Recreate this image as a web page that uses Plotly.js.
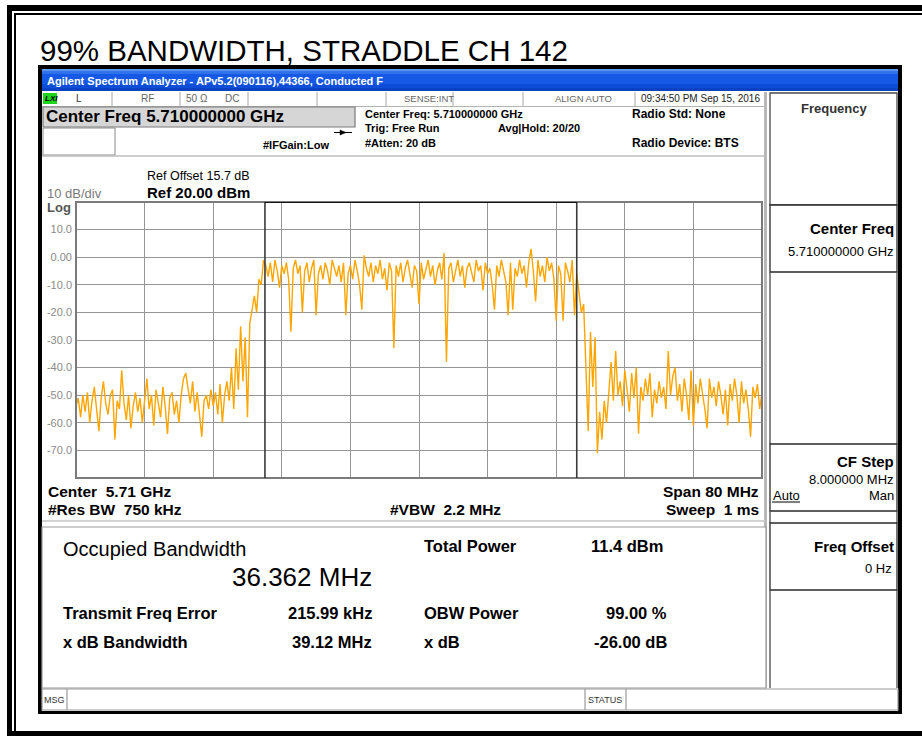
<!DOCTYPE html>
<html><head><meta charset="utf-8">
<script src="https://cdn.plot.ly/plotly-3.0.1.min.js"></script>
<style>html,body{margin:0;padding:0;background:#fff;}#chart{width:922px;height:736px;}</style>
</head><body><div id="chart"></div>
<script>
// ---------------- data ----------------
const chartTitle = "99% BANDWIDTH, STRADDLE CH 142";
const sweepStartGHz = 5.670;
const sweepStopGHz = 5.750;
const obwLowerGHz = 5.692035;
const obwUpperGHz = 5.728397;
const refLevelDbm = 20;
const bottomLevelDbm = -80;
const xGridGHz = [5.670,5.678,5.686,5.694,5.702,5.710,5.718,5.726,5.734,5.742,5.750];
const yTickValues = [10,0,-10,-20,-30,-40,-50,-60,-70];
const yTickLabels = ["10.0","0.00","-10.0","-20.0","-30.0","-40.0","-50.0","-60.0","-70.0"];
const traceDbm = [
-54,-51,-58,-50,-56,-49,-60,-52,-47,-55,-63,-51,-45,-53,-57,-50,-48,-66,-52,-55,-41,-53,-59,-50,-62,-54,-49,-56,-51,-60,
-52,-44,-55,-50,-61,-48,-53,-58,-47,-54,-64,-51,-49,-57,-52,-60,-50,-44,-42,-47,-53,-45,-56,-49,-58,-65,-52,-50,-55,-48,
-54,-49,-57,-46,-60,-50,-45,-52,-40,-55,-33,-48,-25,-45,-29,-58,-24,-19,-14,-20,-8,-10,-1,
-3,-7,-2,-9,-1,-5,-11,-3,-6,-2,
-8,-27,-4,-1,-6,-3,-20,-5,-2,-9,
-4,-1,-21,-6,-3,-8,-2,-5,-10,-1,
-4,-7,-3,-9,-2,-21,-6,-3,-8,-1,
-5,-10,-19,0.7,-4,-7,-2,-9,-3,-6,
-1,-8,-4,-12,-2,-5,-33,-3,-7,-2,
-9,-4,-1,-6,-11,-3,-5,-17,-2,-8,
-4,-1,-7,-3,-10,-5,-2,-8,1.5,-38,
-4,-2,-9,-5,-1,-7,-3,-11,-4,-2,
-6,-9,-1,-5,-3,-12,-2,-6,-4,-10,
-19,-3,-7,-1,-5,-9,-21,-2,-19,-4,
-7,-1,-6,-3,-11,-2,3,-5,-16,-1,
-7,-3,-9,0,-5,-2,-8,-23,-3,-6,
-23,-2,-5,-9,-1,-21,
-6,-13,-20,-17,-40,-63,-27,-47,-29,-71,-56,-66,-52,-60,
-49,-38,-52,-34,-50,-45,-54,-41,-48,-56,
-42,-51,-40,-64,-47,-52,-44,-50,-42,-58,
-48,-53,-45,-51,-47,-55,-34,-50,-43,-40,
-52,-46,-56,-44,-50,-59,-41,-61,-46,-53,
-44,-49,-55,-62,-44,-51,-47,-54,-45,-50,
-57,-48,-61,-46,-52,-44,-50,-60,-45,-53,
-48,-55,-65,-47,-51,-46,-55,-49
];
// sweep grid (instrument sweep points evenly spaced across the span)
const freqGHz = traceDbm.map((_, i) => sweepStartGHz + i * (sweepStopGHz - sweepStartGHz) / (traceDbm.length - 1));

// ---------------- layout helpers ----------------
const W = 922, H = 736;
const L = 76, R = 762, T = 202, B = 478;
const px = x => (x - L) / (R - L);
const py = y => (B - y) / (B - T);
const FONT = "Liberation Sans, Arial, Helvetica, sans-serif";
const shapes = [], annotations = [];
function rect(x0, y0, x1, y1, fill, line, lw, layer) {
  shapes.push({type:'rect', xref:'paper', yref:'paper', x0:px(x0), x1:px(x1), y0:py(y0), y1:py(y1),
    fillcolor: fill || 'rgba(0,0,0,0)', line:{color: line || 'rgba(0,0,0,0)', width: lw || 0}, layer: layer || 'above'});
}
function seg(x0, y0, x1, y1, color, w) {
  shapes.push({type:'line', xref:'paper', yref:'paper', x0:px(x0), x1:px(x1), y0:py(y0), y1:py(y1),
    line:{color: color, width: w || 1}, layer:'above'});
}
function txt(s, x, y, size, o) {
  o = o || {};
  annotations.push({text: o.bold ? '<b>' + s + '</b>' : s, xref:'paper', yref:'paper', x:px(x), y:py(y),
    xanchor: o.anchor || 'left', yanchor:'middle', showarrow:false, borderpad:0,
    font:{family: o.family || FONT, size: size, color: o.color || '#000'}});
}

// page frame
rect(7, 5, 922, 11, '#000');
rect(7, 5, 12, 736, '#000');
rect(14, 13, 922, 15, '#000');
rect(14, 13, 16, 736, '#000');
rect(7, 731, 922, 736, '#000');

// instrument window frame
rect(38, 65, 902, 69, '#000');
rect(38, 65, 42, 714, '#000');
rect(898, 65, 902, 714, '#000');
rect(38, 711, 902, 714, '#000');

// blue title bar
const bands = [[69,71,'#5a98f4'],[71,74,'#2f72ec'],[74,84,'#1659e6'],[84,88,'#0d4dd8'],[88,91,'#0a43c2']];
bands.forEach(b => rect(42, b[0], 898, b[1], b[2]));
txt('Agilent Spectrum Analyzer - APv5.2(090116),44366, Conducted F', 46, 81, 11, {bold:true, color:'#ffffff'});

// status row
rect(43, 93, 57, 104, '#1ed51e');
txt('<i>LXI</i>', 43.5, 98.5, 8, {bold:true, color:'#000'});
[112,180,248,317,386,453,523,635].forEach(x => seg(x, 92, x, 106, '#a8a8a8', 1));
seg(42, 106.5, 766, 106.5, '#b4b4b4', 1);
txt('L', 75, 99, 10, {color:'#333'});
txt('RF', 140, 99, 10, {color:'#666'});
txt('50 Ω', 185, 99, 10, {color:'#666'});
txt('DC', 224, 99, 10, {color:'#666'});
txt('SENSE:INT', 403, 99, 9.5, {color:'#666'});
txt('ALIGN AUTO', 554, 99, 9.5, {color:'#666'});
txt('09:34:50 PM Sep 15, 2016', 640, 99, 10, {color:'#222'});

// header
rect(43, 107, 355, 127, '#d6d6d6', '#7a7a7a', 1.2);
txt('Center Freq 5.710000000 GHz', 45, 117, 17, {bold:true});
rect(43, 128, 115, 155, '#ffffff', '#8a8a8a', 1);
seg(334, 132.5, 352, 132.5, '#000', 1);
shapes.push({type:'path', xref:'paper', yref:'paper', layer:'above',
  path:'M ' + px(340) + ' ' + py(130) + ' L ' + px(346) + ' ' + py(132.5) + ' L ' + px(340) + ' ' + py(135) + ' Z',
  fillcolor:'#000', line:{color:'#000', width:0.5}});
txt('#IFGain:Low', 262, 145, 11, {bold:true});
txt('Center Freq: 5.710000000 GHz', 364, 114, 11, {bold:true});
txt('Trig: Free Run', 364, 128, 11, {bold:true});
txt('#Atten: 20 dB', 364, 143, 11, {bold:true});
txt('Avg|Hold: 20/20', 497, 128, 11, {bold:true});
txt('Radio Std: None', 631, 114, 12, {bold:true});
txt('Radio Device: BTS', 631, 143, 12, {bold:true});
seg(42, 156, 766, 156, '#bdbdbd', 1.5);

// separator between graph and softkeys
rect(764, 92, 767, 688, '#b8b8b8');

// softkey panel
rect(770, 93, 897, 205, '#ffffff', '#4a4a4a', 1.3);
txt('Frequency', 800, 108, 13, {bold:true, color:'#333'});
rect(770, 205, 897, 272, '#ffffff', '#2a2a2a', 1.3);
txt('Center Freq', 895, 228, 15, {bold:true, anchor:'right'});
txt('5.710000000 GHz', 895, 251, 13, {anchor:'right'});
seg(770, 272, 770, 444, '#4a4a4a', 1.3);
seg(897, 272, 897, 444, '#4a4a4a', 1.3);
rect(770, 444, 897, 511, '#ffffff', '#2a2a2a', 1.3);
txt('CF Step', 895, 461, 15, {bold:true, anchor:'right'});
txt('8.000000 MHz', 895, 479, 13, {anchor:'right'});
txt('Auto', 772, 495, 13);
seg(772, 502, 800, 502, '#000', 1);
txt('Man', 895, 495, 13, {anchor:'right'});
seg(770, 511, 770, 523, '#4a4a4a', 1.3);
seg(897, 511, 897, 523, '#4a4a4a', 1.3);
rect(770, 523, 897, 590, '#ffffff', '#2a2a2a', 1.3);
txt('Freq Offset', 895, 546, 15, {bold:true, anchor:'right'});
txt('0 Hz', 893, 568, 13, {anchor:'right'});
seg(770, 590, 770, 688, '#4a4a4a', 1.3);
seg(897, 590, 897, 688, '#4a4a4a', 1.3);

// graph annotations
txt('Ref Offset 15.7 dB', 146, 176, 12.5);
txt('Ref 20.00 dBm', 146, 192, 15, {bold:true});
txt('10 dB/div', 46, 193, 13, {color:'#7a7a7a'});
txt('Log', 46, 207, 13, {bold:true, color:'#555'});
txt('Center  5.71 GHz', 47, 491, 15.5, {bold:true});
txt('#Res BW  750 kHz', 47, 509, 15.5, {bold:true});
txt('#VBW  2.2 MHz', 389, 509, 15.5, {bold:true});
txt('Span 80 MHz', 760, 491, 15.5, {bold:true, anchor:'right'});
txt('Sweep  1 ms', 760, 509, 15.5, {bold:true, anchor:'right'});
seg(42, 521, 766, 521, '#c4c4c4', 1.5);

// measurement panel
rect(42, 527, 766, 688, '#ffffff', '#9a9a9a', 1.2);
txt('Occupied Bandwidth', 62, 549, 20);
txt('36.362 MHz', 373, 577, 26, {anchor:'right'});
txt('Total Power', 423, 546, 16.5, {bold:true});
txt('11.4 dBm', 590, 546, 16.5, {bold:true});
txt('Transmit Freq Error', 62, 613, 16.5, {bold:true});
txt('215.99 kHz', 373, 613, 16.5, {bold:true, anchor:'right'});
txt('OBW Power', 423, 613, 16.5, {bold:true});
txt('99.00 %', 668, 613, 16.5, {bold:true, anchor:'right'});
txt('x dB Bandwidth', 62, 642, 16.5, {bold:true});
txt('39.12 MHz', 373, 642, 16.5, {bold:true, anchor:'right'});
txt('x dB', 423, 642, 16.5, {bold:true});
txt('-26.00 dB', 668, 642, 16.5, {bold:true, anchor:'right'});

// status bar
rect(42, 689, 898, 710, '#ffffff', '#9a9a9a', 1.2);
seg(67, 689, 67, 710, '#9a9a9a', 1.2);
seg(585, 689, 585, 710, '#9a9a9a', 1.2);
seg(626, 689, 626, 710, '#9a9a9a', 1.2);
txt('MSG', 43, 699.5, 9, {color:'#333'});
txt('STATUS', 587, 699.5, 9, {color:'#333'});

// plot border and OBW markers (data coordinates)
shapes.push({type:'rect', xref:'paper', yref:'paper', x0:0, x1:1, y0:0, y1:1, line:{color:'#7a7a7a', width:2}, layer:'above'});
[obwLowerGHz, obwUpperGHz].forEach(f => {
  shapes.push({type:'line', xref:'x', yref:'y', x0:f, x1:f, y0:bottomLevelDbm, y1:refLevelDbm, line:{color:'#3a3a3a', width:1.6}, layer:'above'});
});
shapes.push({type:'line', xref:'x', yref:'y', x0:obwLowerGHz, x1:obwUpperGHz, y0:refLevelDbm, y1:refLevelDbm, line:{color:'#111', width:2}, layer:'above'});

const trace = {
  x: freqGHz, y: traceDbm, type:'scatter', mode:'lines',
  line:{color:'#FFA500', width:1.4}, hoverinfo:'skip', showlegend:false
};

const layout = {
  width: W, height: H,
  margin: {l: L, r: W - R, t: T, b: H - B, pad: 0},
  paper_bgcolor:'#ffffff', plot_bgcolor:'#ffffff',
  title: {text: chartTitle, x: 40 / W, xanchor:'left', xref:'container', y: 1 - 51 / H, yref:'container', yanchor:'middle',
    font:{family: FONT, size: 29.5, color:'#000'}},
  xaxis: {range:[sweepStartGHz, sweepStopGHz], tickmode:'array', tickvals: xGridGHz, showticklabels:false, ticks:'',
    showgrid:true, gridcolor:'#959595', gridwidth:1, zeroline:false, showline:false, fixedrange:true},
  yaxis: {range:[bottomLevelDbm, refLevelDbm], tickmode:'array', tickvals: yTickValues, ticktext: yTickLabels, ticks:'',
    tickfont:{family: FONT, size: 11, color:'#8a8a8a'}, ticklabelstandoff: 3,
    showgrid:true, gridcolor:'#959595', gridwidth:1, zeroline:false, showline:false, fixedrange:true},
  shapes: shapes, annotations: annotations, showlegend:false
};
Plotly.newPlot('chart', [trace], layout, {displayModeBar:false, staticPlot:true});
</script>
</body></html>
